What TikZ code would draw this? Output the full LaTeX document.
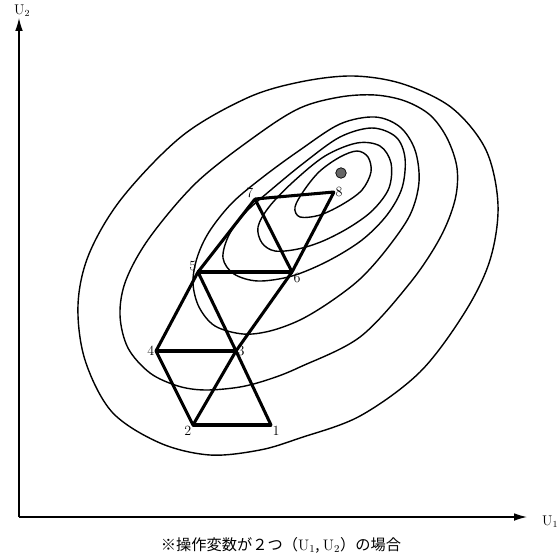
\documentclass[tikz,border=0pt]{standalone}
\usepackage{tikz}
\usepackage{fontspec}
\usetikzlibrary{arrows.meta}
\newfontfamily\cjk{Noto Sans CJK JP}

\begin{document}
\begin{tikzpicture}[x=0.03cm, y=-0.03cm,
			vertex_style/.style={inner sep=0pt, minimum size=0pt, label distance=1pt},
			num_style/.style={font=\fontsize{12}{14}\selectfont, inner sep=1pt},
			edge_style/.style={line width=2.6pt, black, line cap=round},
			contour_style/.style={line width=1.2pt, black},
			axis_style/.style={line width=1pt, -{Latex[length=11pt,width=6.5pt]}}]
			
			\useasboundingbox (0,0) rectangle (557,555);
			
			% axes
			\coordinate (o) at (19,517);
			\coordinate (u1) at (527,517);
			\coordinate (u2) at (19,18);
			\draw[axis_style] (o) -- (u1);
			\draw[axis_style] (o) -- (u2);
			\node[anchor=west, inner sep=0pt, font=\fontsize{12}{14}\selectfont] (u1lab) at (542,522) {U$_1$};
			\node[anchor=west, inner sep=0pt, font=\fontsize{12}{14}\selectfont] (u2lab) at (14,11) {U$_2$};
			
			% contours
			\draw[contour_style] plot[smooth cycle, tension=0.55] coordinates {(300,438) (360,416) (420,372) (465,312) (490,260) (498,205) (486,150) (452,108) (403,84) (353,76) (300,82) (247,98) (182,136) (122,198) (89,254) (78,305) (85,360) (112,412) (160,443) (210,455) (260,450)};
			\draw[contour_style] plot[smooth cycle, tension=0.55] coordinates {(300,367) (360,337) (410,283) (440,238) (455,200) (457,168) (447,138) (430,115) (405,101) (375,95) (340,97) (300,108) (257,135) (197,182) (150,237) (126,280) (120,315) (128,348) (150,373) (178,386) (205,390) (240,387) (270,379)};
			\draw[contour_style] plot[smooth cycle, tension=0.55] coordinates {(193,283) (197,258) (209,232) (232,203) (263,177) (300,150) (340,124) (375,117) (400,127) (415,150) (419,182) (410,215) (386,250) (360,279) (330,302) (300,320) (270,331) (243,334) (215,326) (199,307)};
			\draw[contour_style] plot[smooth cycle, tension=0.55] coordinates {(223,258) (229,235) (246,212) (272,189) (305,162) (340,137) (372,128) (396,137) (405,158) (402,188) (387,215) (362,240) (328,261) (292,276) (258,281) (234,274)};
			\draw[contour_style] plot[smooth cycle, tension=0.55] coordinates {(258,227) (269,207) (293,182) (325,156) (357,143) (380,146) (391,163) (389,188) (373,210) (350,227) (323,241) (298,249) (275,251) (262,243)};
			\draw[contour_style] plot[smooth cycle, tension=0.55] coordinates {(295,207) (305,189) (320,171) (340,157) (357,151) (368,157) (371,172) (362,190) (343,204) (320,215) (300,217)};
			
			% optimum
			\node[circle, draw, fill=black!60, line width=0.6pt, minimum size=9pt, inner sep=0pt] (opt) at (341,173) {};
			
			% simplex vertices
			\foreach \x/\y/\n/\p in {271/425/1/below right, 193/425/2/below left, 236/351/3/right, 156/351/4/left,
				198/272/5/above left, 292/272/6/below right, 255/199/7/above left, 334/192/8/right}{
				\node[vertex_style, label={[num_style]\p:\n}] (\n) at (\x,\y) {};}
			
			\foreach \x/\y in {1/2,1/3,2/3,2/4,3/4,3/5,4/5,3/6,5/6,5/7,6/7,7/8,6/8}{
				\draw[edge_style] (\x) -- (\y);}
			
			\node[font=\cjk\fontsize{13}{15}\selectfont] (caption) at (281,545) {※操作変数が２つ（{\rmfamily U}$_1$, {\rmfamily U}$_2$）の場合};
		\end{tikzpicture}
\end{document}
